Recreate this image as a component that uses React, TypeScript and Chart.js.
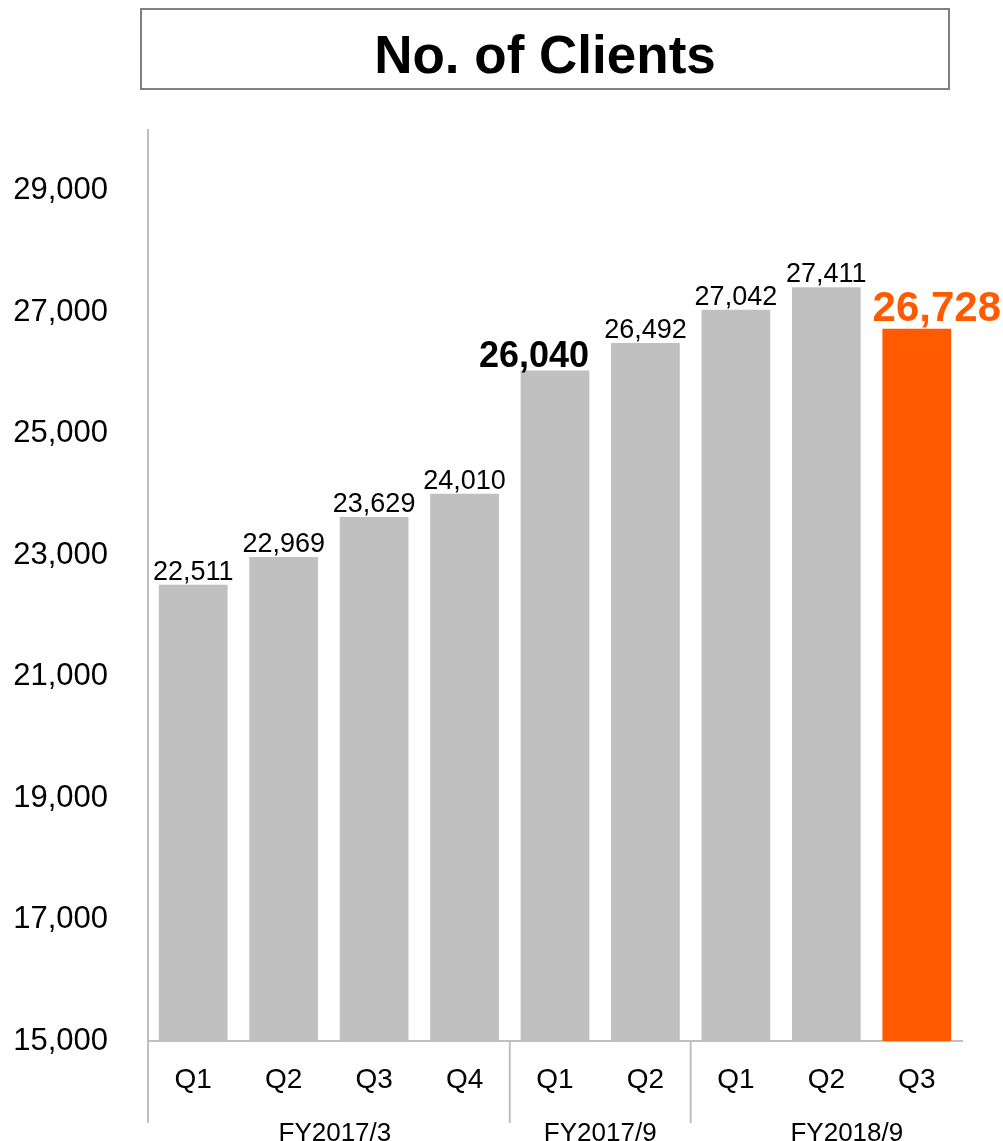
import React, { useEffect, useRef } from "react";
import { Chart, registerables } from "chart.js";

Chart.register(...registerables);

const title = "No. of Clients";
const categories = ["Q1", "Q2", "Q3", "Q4", "Q1", "Q2", "Q1", "Q2", "Q3"];
const groupLabels = ["FY2017/3", "FY2017/9", "FY2018/9"];
const groupSizes = [4, 2, 3];
const clients = [22511, 22969, 23629, 24010, 26040, 26492, 27042, 27411, 26728];
const yTicks = [15000, 17000, 19000, 21000, 23000, 25000, 27000, 29000];
const emphasisIndex = 4;
const highlightIndex = 8;

const FONT = "'Liberation Sans', Arial, Helvetica, sans-serif";
const GRAY = "#c0c0c0";
const ORANGE = "#ff5a00";
const AXIS = "#bfbfbf";

const fmt = (v: number) => Number(v).toLocaleString("en-US");

const decorPlugin = {
  id: "decor",
  beforeDraw(chart: any) {
    const ctx = chart.ctx;
    ctx.save();
    ctx.fillStyle = "#ffffff";
    ctx.fillRect(0, 0, chart.width, chart.height);
    // title box
    ctx.strokeStyle = "#808080";
    ctx.lineWidth = 2;
    ctx.strokeRect(141, 9, 808, 80);
    ctx.fillStyle = "#000";
    ctx.font = `bold 53px ${FONT}`;
    ctx.textAlign = "center";
    ctx.textBaseline = "middle";
    ctx.fillText(title, 545, 58);
    ctx.restore();
  },
  afterDraw(chart: any) {
    const ctx = chart.ctx;
    const x = chart.scales.x;
    const area = chart.chartArea;
    const step = x.width / categories.length;
    ctx.save();
    ctx.strokeStyle = AXIS;
    ctx.lineWidth = 2;
    ctx.fillStyle = "#000";
    ctx.font = `26px ${FONT}`;
    ctx.textAlign = "center";
    ctx.textBaseline = "middle";
    let start = 0;
    groupSizes.forEach((size, gi) => {
      const left = x.getPixelForValue(start) - step / 2;
      const right =
        gi === groupSizes.length - 1
          ? chart.width
          : x.getPixelForValue(start + size - 1) + step / 2;
      ctx.beginPath();
      ctx.moveTo(left, area.bottom);
      ctx.lineTo(left, area.bottom + 82);
      ctx.stroke();
      ctx.fillText(groupLabels[gi], (left + right) / 2 + (gi === 0 ? 6 : 0), area.bottom + 93);
      start += size;
    });
    ctx.restore();
  },
  afterDatasetsDraw(chart: any) {
    const ctx = chart.ctx;
    const meta = chart.getDatasetMeta(0);
    ctx.save();
    ctx.textAlign = "center";
    ctx.textBaseline = "alphabetic";
    meta.data.forEach((el: any, i: number) => {
      let font = `27px ${FONT}`;
      let color = "#000";
      let dx = 0;
      let gap = 5;
      if (i === emphasisIndex) {
        font = `bold 36px ${FONT}`;
        dx = -21;
        gap = 4;
      } else if (i === highlightIndex) {
        font = `bold 42px ${FONT}`;
        color = ORANGE;
        dx = 20;
        gap = 8;
      }
      ctx.font = font;
      ctx.fillStyle = color;
      ctx.fillText(fmt(clients[i]), el.x + dx, el.y - gap);
    });
    ctx.restore();
  },
};

export default function App() {
  const ref = useRef<HTMLCanvasElement>(null);
  useEffect(() => {
    if (!ref.current) return;
    const chart = new Chart(ref.current, {
      type: "bar",
      data: {
        labels: categories,
        datasets: [
          {
            data: clients,
            backgroundColor: clients.map((_, i) => (i === highlightIndex ? ORANGE : GRAY)),
            barPercentage: 0.76,
            categoryPercentage: 1,
          },
        ],
      },
      options: {
        responsive: false,
        animation: false,
        layout: { padding: { top: 130, right: 41, left: 0, bottom: 0 } },
        plugins: { legend: { display: false }, tooltip: { enabled: false }, title: { display: false } },
        scales: {
          x: {
            grid: { display: false, drawTicks: false },
            border: { color: AXIS, width: 2 },
            ticks: { color: "#000", font: { size: 28, family: FONT }, padding: 22, maxRotation: 0 },
            afterFit(s: any) {
              s.height = 100;
            },
          },
          y: {
            min: 15000,
            max: 30000,
            afterBuildTicks(s: any) {
              s.ticks = yTicks.map((v) => ({ value: v }));
            },
            grid: { display: false, drawTicks: false },
            border: { color: AXIS, width: 2 },
            ticks: {
              color: "#000",
              font: { size: 31, family: FONT },
              padding: 40,
              callback: (v: any) => fmt(Number(v)),
            },
            afterFit(s: any) {
              s.width = 148;
            },
          },
        },
      },
      plugins: [decorPlugin],
    });
    return () => chart.destroy();
  }, []);
  return (
    <div style={{ position: "absolute", left: 0, top: 0, width: 1003, height: 1141, background: "#fff" }}>
      <canvas ref={ref} width={1003} height={1141} style={{ display: "block" }} />
    </div>
  );
}
